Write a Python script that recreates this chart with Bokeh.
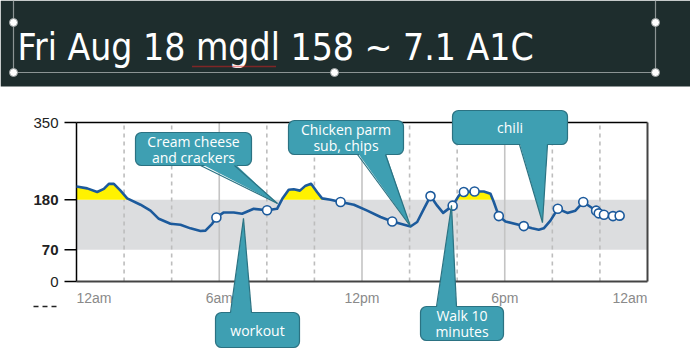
import numpy as np
from bokeh.plotting import figure
from bokeh.models import Range1d, ColumnDataSource
from bokeh.core.properties import value
from bokeh.embed import file_html
from bokeh.resources import INLINE

# ---------------- data ----------------
hours = [0, 0.45, 0.87, 1.15, 1.36, 1.57, 1.85, 2.13, 2.69, 3.11, 3.46, 3.95, 4.37, 4.79,
         5.21, 5.42, 5.70, 5.88, 6.19, 6.61, 6.96, 7.45, 8.01, 8.43, 8.65, 8.92, 9.13, 9.39,
         9.63, 9.86, 10.11, 10.32, 10.68, 11.10, 11.66, 12.22, 12.78, 13.27, 13.62, 14.04,
         14.32, 14.60, 14.88, 15.16, 15.41, 15.81, 16.07, 16.28, 16.73, 17.12, 17.40, 17.54,
         17.75, 18.03, 18.80, 19.15, 19.43, 19.64, 19.92, 20.23, 20.63, 20.97, 21.30, 21.61,
         21.84, 21.95, 22.17]
glucose = [209, 205, 197, 204, 215, 215, 200, 183, 169, 156, 138, 127, 125, 117,
           111, 112, 127, 141, 152, 152, 149, 160, 157, 160, 182, 202, 203, 200,
           211, 215, 197, 183, 180, 175, 169, 156, 142, 132, 127, 121,
           131, 160, 188, 167, 151, 167, 189, 197, 198, 198, 193, 175,
           144, 132, 122, 117, 114, 117, 134, 160, 151, 156, 175, 164,
           156, 150, 147]
marker_hours = [5.88, 8.01, 11.10, 13.27, 14.88, 15.81, 16.28, 16.73, 17.75, 18.80,
                20.23, 21.30, 21.84, 21.95, 22.17, 22.55, 22.83]
marker_glucose = [141, 157, 175, 132, 188, 167, 197, 198, 144, 122,
                  160, 175, 156, 150, 147, 144, 145]

target_low, target_high = 70, 180
y_ticks = [0, 70, 180, 350]
y_tick_labels = ["0", "70", "180", "350"]
y_tick_weights = ["normal", "bold", "bold", "normal"]
x_ticks = [0, 6, 12, 18, 24]
x_tick_labels = ["12am", "6am", "12pm", "6pm", "12am"]
x_tick_align = ["left", "center", "center", "center", "right"]
dashed_hours = [2, 4, 8, 10, 14, 16, 20, 22]
solid_hours = [6, 12, 18]
title = "Fri Aug 18 mgdl 158 ~ 7.1 A1C"

notes = [
    dict(lines=["Cream cheese", "and crackers"], box=(135, 132, 251, 165), base=(200, 234), tip=(277, 203), up=False),
    dict(lines=["workout"], box=(215, 312, 299, 347), base=(230, 251), tip=(243, 218), up=True),
    dict(lines=["Chicken parm", "sub, chips"], box=(288, 120, 403, 154), base=(357, 385), tip=(410, 226), up=False),
    dict(lines=["chili"], box=(452, 110, 567, 144), base=(519, 547), tip=(542, 222), up=False),
    dict(lines=["Walk 10", "minutes"], box=(420, 306, 503, 340), base=(436, 456), tip=(451, 205), up=True),
]

# ---------------- layout mapping ----------------
W, H = 690, 351
X0, X1 = 76, 647          # 12am .. 12am
Y0, Y350 = 281, 122       # 0 .. 350 mg/dl
PPH = (X1 - X0) / 24.0
PPU = (Y0 - Y350) / 350.0

def X(px):
    return (px - X0) / PPH

def Y(py):
    return (Y0 - py) / PPU

p = figure(width=W, height=H, x_range=Range1d(X(0), X(W)), y_range=Range1d(Y(H), Y(0)),
           min_border=0, toolbar_location=None, output_backend="svg",
           x_axis_location=None, y_axis_location=None)
p.grid.visible = False
p.outline_line_color = None
p.background_fill_color = "white"
p.border_fill_color = "white"

# header
p.quad(left=X(0), right=X(W), top=Y(0), bottom=Y(86), fill_color="#1e2d2d", line_color=None)
sel = "#8c9494"
p.segment(x0=[X(13), X(655), X(13)], y0=[Y(0), Y(0), Y(72)],
          x1=[X(13), X(655), X(655)], y1=[Y(72), Y(72), Y(72)], line_color=sel, line_width=1.2)
p.scatter(x=[X(13), X(655), X(13), X(334), X(655)], y=[Y(22), Y(22), Y(72), Y(72), Y(72)],
          size=8, fill_color="white", line_color="#9aa0a0", line_width=1)
p.text(x=[X(17)], y=[Y(47)], text=[title], text_color="white", text_font_size="37px",
       text_font=value("DejaVu Sans Condensed"), text_baseline="middle", text_align="left")
p.line(x=[X(192), X(275)], y=[Y(66), Y(66)], line_color="#e02020", line_width=1.5, line_dash="1 1")

# target band
p.quad(left=0, right=24, bottom=target_low, top=target_high, fill_color="#dcdddf", line_color=None)

# grid
p.segment(x0=dashed_hours, y0=0, x1=dashed_hours, y1=350, line_color="#bdbdbd",
          line_width=1.6, line_dash="4 4")
p.segment(x0=solid_hours, y0=0, x1=solid_hours, y1=350, line_color="#c4c4c4", line_width=1.6)

# yellow fill above target
hx, gy = [], []
for i in range(len(hours)):
    if i > 0:
        a, b = glucose[i - 1] - target_high, glucose[i] - target_high
        if a * b < 0:
            t = a / (a - b)
            hx.append(hours[i - 1] + t * (hours[i] - hours[i - 1]))
            gy.append(target_high)
    hx.append(hours[i])
    gy.append(glucose[i])
gy = np.maximum(np.array(gy, dtype=float), target_high)
p.varea(x=hx, y1=target_high, y2=gy, fill_color="#fff200")

# frame
p.line(x=[0, 24], y=[350, 350], line_color="black", line_width=1.5)
p.line(x=[0, 0], y=[0, 350], line_color="black", line_width=1.5)
p.line(x=[24, 24], y=[0, 350], line_color="#444444", line_width=2)
p.line(x=[0, 24], y=[0, 0], line_color="#444444", line_width=2)
p.segment(x0=X(64), y0=y_ticks, x1=0, y1=y_ticks, line_color="black", line_width=1.5)
ysrc = ColumnDataSource(dict(x=[X(58)] * 4, y=y_ticks, t=y_tick_labels, w=y_tick_weights))
p.text(x="x", y="y", text="t", text_font_style="w", source=ysrc, text_color="#222222",
       text_font_size="15px", text_font=value("Liberation Sans"), text_align="right",
       text_baseline="middle")
xsrc = ColumnDataSource(dict(x=x_ticks, y=[Y(297)] * 5, t=x_tick_labels, a=x_tick_align))
p.text(x="x", y="y", text="t", text_align="a", source=xsrc, text_color="#8a8a8a",
       text_font_size="14px", text_font=value("Liberation Sans"), text_baseline="middle")

# glucose line
blue = "#1c5a9c"
p.line(x=hours, y=glucose, line_color=blue, line_width=2.6, line_join="round")
p.scatter(x=marker_hours, y=marker_glucose, size=9, fill_color="white", line_color=blue, line_width=1.6)

# callouts
teal = "#3e9fb2"
edge = "#2b7282"
for n in notes:
    l, t, r, b = n["box"]
    p.rect(x=[X((l + r) / 2)], y=[Y((t + b) / 2)], width=[r - l], height=[b - t],
           width_units="screen", height_units="screen", fill_color=teal, line_color=edge,
           line_width=1.2, border_radius=6)
    by = t if n["up"] else b
    inner = by + 2 if n["up"] else by - 2
    bx0, bx1 = n["base"]
    tx, ty = n["tip"]
    p.patch(x=[X(bx0), X(bx1), X(tx)], y=[Y(inner), Y(inner), Y(ty)], fill_color=teal, line_color=None)
    p.segment(x0=[X(bx0), X(bx1)], y0=[Y(by), Y(by)], x1=[X(tx), X(tx)], y1=[Y(ty), Y(ty)],
              line_color=edge, line_width=1.2)
    cx = (l + r) / 2
    cy = (t + b) / 2
    k = len(n["lines"])
    ys = [Y(cy + (i - (k - 1) / 2) * 16) for i in range(k)]
    p.text(x=[X(cx)] * k, y=ys, text=n["lines"], text_color="white", text_font_size="14px",
           text_font=value("Open Sans"), text_align="center", text_baseline="middle")

# stray dashes at bottom-left
p.line(x=[X(33), X(56)], y=[Y(306), Y(306)], line_color="#222222", line_width=1.5, line_dash="5 4")

open("out.html", "w").write(file_html(p, INLINE))
